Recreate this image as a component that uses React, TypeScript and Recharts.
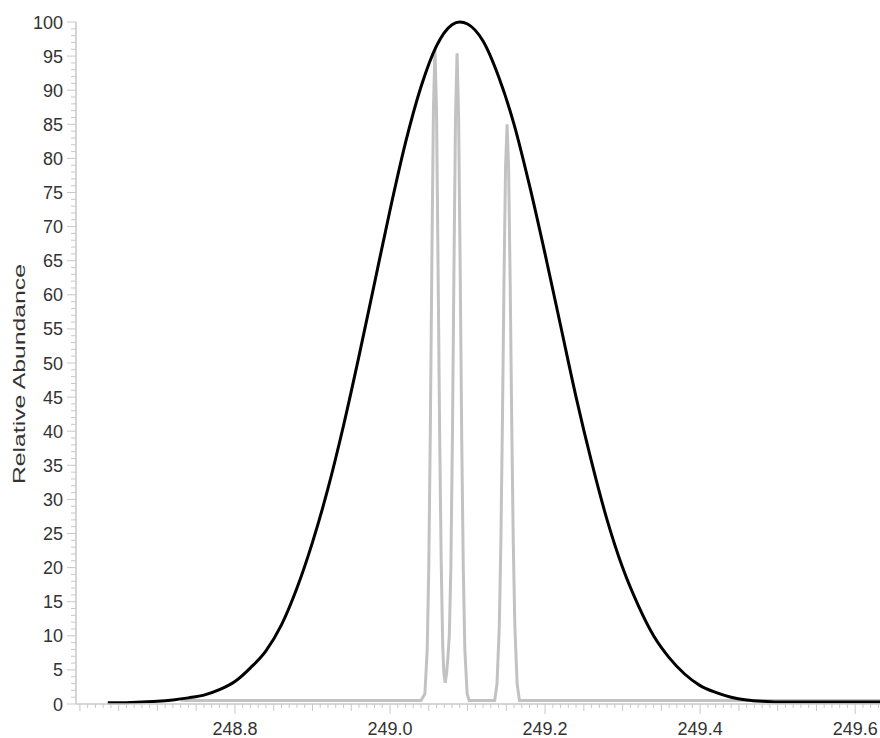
import React from "react";
import { LineChart, Line, XAxis, YAxis } from "recharts";

// Black envelope curve (m/z, relative abundance)
const blackX = [
  248.636, 248.66, 248.68, 248.7, 248.72, 248.74, 248.76, 248.78, 248.8, 248.82,
  248.84, 248.86, 248.88, 248.9, 248.92, 248.94, 248.96, 248.98, 249.0, 249.02,
  249.04, 249.06, 249.08, 249.09, 249.1, 249.12, 249.14, 249.16, 249.18, 249.2,
  249.22, 249.24, 249.26, 249.28, 249.3, 249.32, 249.34, 249.36, 249.38, 249.4,
  249.42, 249.44, 249.46, 249.48, 249.5, 249.52, 249.56, 249.6, 249.632,
];
const blackY = [
  0.2, 0.2, 0.3, 0.4, 0.6, 0.9, 1.3, 2.1, 3.3, 5.3,
  7.8, 11.6, 17.0, 23.7, 31.6, 40.8, 51.0, 61.7, 72.4, 82.3,
  90.5, 96.5, 99.6, 100, 99.7, 97.2, 92.0, 85.0, 76.0, 66.0,
  55.5, 45.0, 35.5, 27.0, 20.0, 14.5, 10.0, 6.8, 4.4, 2.7,
  1.7, 1.0, 0.6, 0.4, 0.3, 0.3, 0.3, 0.3, 0.3,
];

// Grey high-resolution profile
const grayX = [
  248.73, 249.04, 249.045, 249.048, 249.05, 249.052, 249.054, 249.056, 249.058, 249.06,
  249.062, 249.064, 249.066, 249.068, 249.0695, 249.0712, 249.073, 249.0748, 249.0765, 249.0785,
  249.0805, 249.0825, 249.0845, 249.0865, 249.0885, 249.0905, 249.0925, 249.0945, 249.0965, 249.0995,
  249.102, 249.135, 249.138, 249.141, 249.143, 249.145, 249.147, 249.149, 249.151, 249.153,
  249.155, 249.157, 249.159, 249.161, 249.164, 249.167, 249.632,
];
const grayY = [
  0.5, 0.5, 1.5, 8, 20, 40, 65, 87, 96, 87,
  64, 40, 21, 8.5, 4.5, 3.1, 4.5, 7, 10, 20,
  39, 64, 86, 95.4, 86, 64, 39, 20, 8, 1.5,
  0.5, 0.5, 2.9, 11.5, 23.6, 41.4, 61.7, 78.5, 85, 78.5,
  61.7, 41.4, 23.6, 11.5, 2.9, 0.5, 0.5,
];

const xMajorTicks = [248.8, 249.0, 249.2, 249.4, 249.6];
const yMajorTicks = [0, 5, 10, 15, 20, 25, 30, 35, 40, 45, 50, 55, 60, 65, 70, 75, 80, 85, 90, 95, 100];
const yLabel = "Relative Abundance";

const blackData = blackX.map((x, i) => ({ x, y: blackY[i] }));
const grayData = grayX.map((x, i) => ({ x, y: grayY[i] }));

const xTicks: number[] = [];
for (let k = 24860; k <= 24963; k++) xTicks.push(k / 100);
const yTicks: number[] = [];
for (let k = 0; k <= 100; k++) yTicks.push(k);

const AXIS = "#c8c8c8";
const TXT = "#333333";
const FONT = "'Liberation Sans', Arial, sans-serif";

function XTick(props: any) {
  const { x, y, payload } = props;
  const v = payload.value as number;
  const k = Math.round(v * 100);
  const major = xMajorTicks.some((m) => Math.abs(m - v) < 1e-6);
  const med = k % 5 === 0;
  const len = major ? 10 : med ? 7 : 4;
  return (
    <g>
      <line x1={x} x2={x} y1={y} y2={y + len} stroke={AXIS} strokeWidth={1} />
      {major && (
        <text x={x} y={y + 31} textAnchor="middle" fontSize={18} fontFamily={FONT} fill={TXT}>
          {v.toFixed(1)}
        </text>
      )}
    </g>
  );
}

function YTick(props: any) {
  const { x, y, payload } = props;
  const v = payload.value as number;
  const major = yMajorTicks.includes(v);
  const len = major ? 9 : 5;
  return (
    <g>
      <line x1={x - len} x2={x} y1={y} y2={y} stroke={AXIS} strokeWidth={1} />
      {major && (
        <text x={x - 13} y={y + 6.5} textAnchor="end" fontSize={18} fontFamily={FONT} fill={TXT}>
          {v}
        </text>
      )}
    </g>
  );
}

function YLabel() {
  const cx = 25;
  const cy = 374;
  return (
    <text
      x={cx}
      y={cy}
      transform={`rotate(-90 ${cx} ${cy})`}
      textAnchor="middle"
      fontSize={17}
      fontFamily={FONT}
      fill={TXT}
      textLength={220}
      lengthAdjust="spacingAndGlyphs"
    >
      {yLabel}
    </text>
  );
}

export default function App() {
  return (
    <div style={{ position: "absolute", left: 0, top: 0, width: 880, height: 738, background: "#fff" }}>
      <LineChart width={880} height={738} margin={{ top: 22, right: 0, bottom: 0, left: 0 }}>
        <XAxis
          dataKey="x"
          type="number"
          domain={[248.595, 249.632]}
          allowDataOverflow
          ticks={xTicks}
          interval={0}
          tickSize={0}
          tickMargin={0}
          tickLine={false}
          axisLine={{ stroke: AXIS, strokeWidth: 1.5 }}
          tick={<XTick />}
          height={34}
        />
        <YAxis
          type="number"
          domain={[0, 100]}
          ticks={yTicks}
          interval={0}
          tickSize={0}
          tickMargin={0}
          tickLine={false}
          axisLine={{ stroke: AXIS, strokeWidth: 1.5 }}
          tick={<YTick />}
          width={76}
          label={{ content: () => <YLabel /> }}
        />
        <Line
          data={grayData}
          dataKey="y"
          type="linear"
          stroke="#c2c2c2"
          strokeWidth={3}
          dot={false}
          activeDot={false}
          isAnimationActive={false}
        />
        <Line
          data={blackData}
          dataKey="y"
          type="monotone"
          stroke="#000000"
          strokeWidth={3}
          dot={false}
          activeDot={false}
          isAnimationActive={false}
        />
      </LineChart>
    </div>
  );
}
